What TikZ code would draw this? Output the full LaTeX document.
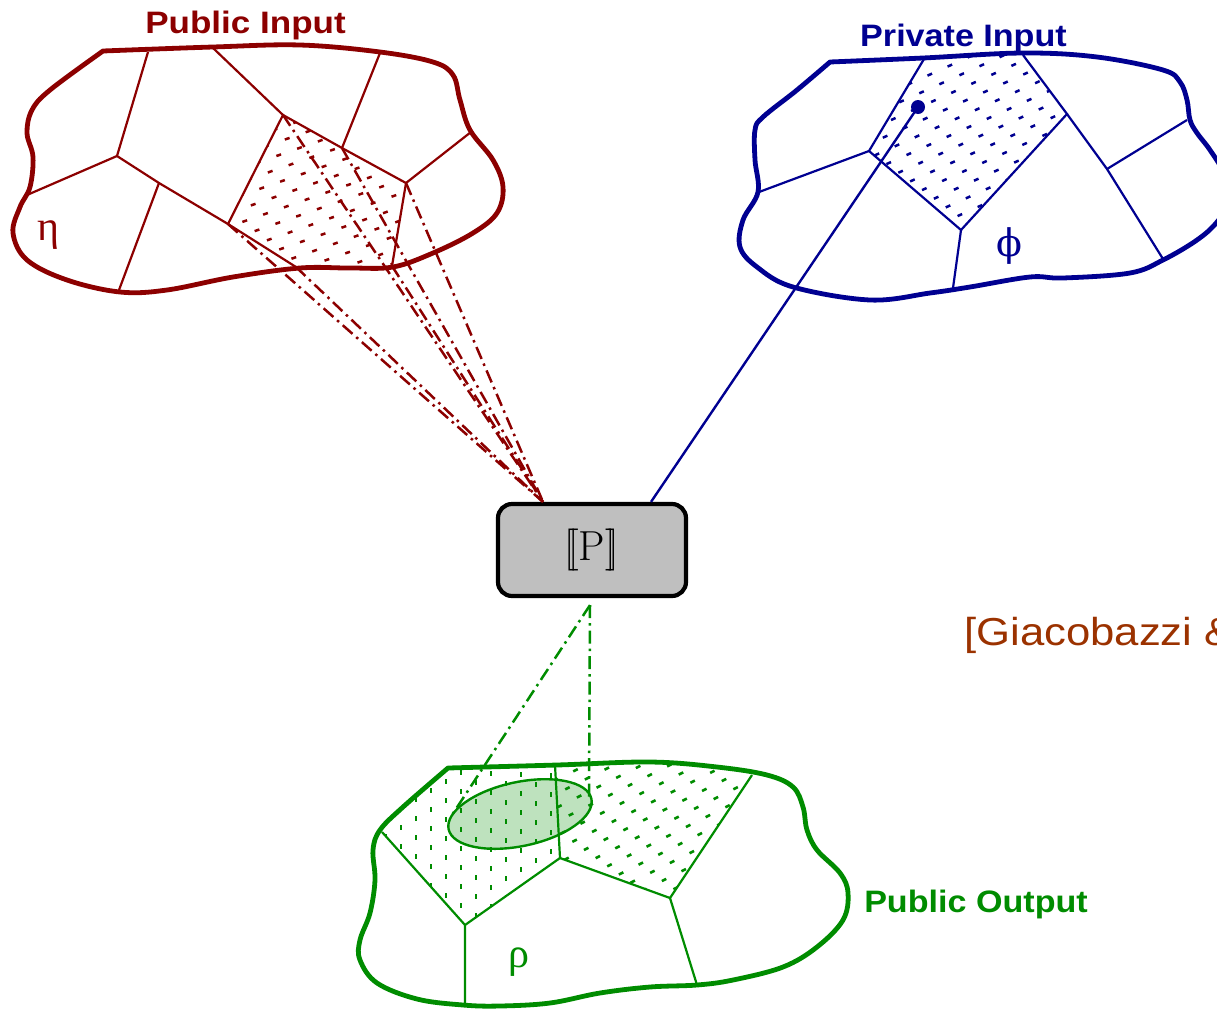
\documentclass[tikz,border=0pt]{standalone}
\usepackage{graphicx}
\usepackage{fontspec}
\newfontfamily\labfont{Liberation Sans}
\newfontfamily\grkfont{Liberation Serif}
\newfontfamily\phifont{DejaVu Serif}
\definecolor{pred}{RGB}{140,0,0}
\definecolor{pblue}{RGB}{0,0,145}
\definecolor{pgreen}{RGB}{0,140,0}
\definecolor{citecol}{RGB}{155,50,0}
\definecolor{boxgray}{RGB}{191,191,191}
\definecolor{elfill}{RGB}{190,226,190}
\begin{document}
\begin{tikzpicture}[x=1pt,y=-1pt,
  outline/.style={line width=4.8pt, line join=round},
  cellline/.style={line width=2.2pt},
  hatch/.style={line width=2.5pt, dash pattern=on 5pt off 17pt},
  vhatch/.style={line width=2.5pt, dash pattern=on 5pt off 14pt},
  proj/.style={line width=2.5pt, dash pattern=on 13pt off 5pt on 2.5pt off 5pt},
  lab/.style={font=\labfont\bfseries\fontsize{31}{35}\selectfont, anchor=base, inner sep=0pt},
  greek/.style={font=\fontsize{42}{46}\selectfont, anchor=base, inner sep=0pt}
]
\useasboundingbox (0,0) rectangle (1217,1010);
\clip (0,0) rectangle (1217,1010);

% ---------------- Public Input (red) ----------------
\coordinate (r1) at (283,115);
\coordinate (r2) at (342,148);
\coordinate (r3) at (406,183);
\coordinate (r4) at (392,266);
\coordinate (r5) at (296,267);
\coordinate (r6) at (228,224);
\coordinate (ra) at (117,156);
\coordinate (rb) at (159,183);

\begin{scope}
\clip (r1) -- (r2) -- (r3) -- (r4) -- (r5) -- (r6) -- cycle;
\foreach \k in {0,...,18} {
  \pgfmathsetmacro\c{110+\k*13.5}
  \pgfmathsetmacro\ph{mod(\k*9,22)}
  \draw[hatch, pred, dash phase=\ph pt] (215,\c) -- (425,{\c-0.35*210});
}
\end{scope}

\draw[pred, outline] plot[smooth, tension=0.6] coordinates {
 (103,51) (213,47) (300,45) (380,52) (433,62) (453,75) (460,100) (470,130)
 (493,160) (503,187) (497,213) (473,233) (433,253) (393,267) (350,268)
 (300,268) (233,277) (167,290) (120,292) (67,280) (27,260) (13,233)
 (20,207) (30,187) (33,157) (27,133) (32,110) (50,90) (103,51)} -- cycle;

\draw[pred, cellline] (148,52) -- (ra) -- (27,195);
\draw[pred, cellline] (ra) -- (rb) -- (r6);
\draw[pred, cellline] (rb) -- (119,290);
\draw[pred, cellline] (213,48) -- (r1) -- (r2) -- (r3) -- (471,132);
\draw[pred, cellline] (380,53) -- (r2);
\draw[pred, cellline] (r1) -- (r6) -- (r5);
\draw[pred, cellline] (r3) -- (r4);

\node[greek, text=pred] (eta) at (48,240) {\grkfont η};
\node[lab, text=pred] (pubin) at (245.5,33) {\scalebox{1.13}[1]{Public Input}};

% ---------------- Private Input (blue) ----------------
\coordinate (b1) at (924,59);
\coordinate (b2) at (1023,55);
\coordinate (b3) at (1067,114);
\coordinate (b4) at (961,230);
\coordinate (b5) at (869,151);
\coordinate (bc) at (1107,169);

\begin{scope}
\clip (b1) -- (b2) -- (b3) -- (b4) -- (b5) -- cycle;
\foreach \k in {0,...,21} {
  \pgfmathsetmacro\c{50+\k*14}
  \pgfmathsetmacro\ph{mod(\k*9,22)}
  \draw[hatch, pblue, dash phase=\ph pt] (860,\c) -- (1075,{\c-0.45*215});
}
\end{scope}

\draw[pblue, outline] plot[smooth, tension=0.6] coordinates {
 (830,62) (923,58) (1023,53) (1097,57) (1163,70) (1180,82) (1187,100)
 (1190,120) (1197,133) (1210,150) (1225,175) (1230,200) (1217,222)
 (1197,240) (1163,260) (1130,273) (1063,278) (1030,277) (970,287)
 (930,293) (870,300) (793,287) (757,267) (740,247) (743,220) (758,192)
 (755,160) (755,130) (763,117) (797,90) (830,62)} -- cycle;

\draw[pblue, cellline] (b1) -- (b5) -- (759,192);
\draw[pblue, cellline] (b5) -- (b4) -- (b3) -- (b2);
\draw[pblue, cellline] (b3) -- (bc) -- (1163,259);
\draw[pblue, cellline] (bc) -- (1187,120);
\draw[pblue, cellline] (b4) -- (953,288);

\node[greek, text=pblue, font=\fontsize{38}{42}\selectfont] (phi) at (1009,256) {\phifont ϕ};
\node[lab, text=pblue] (privin) at (963.5,46) {\scalebox{1.1}[1]{Private Input}};

\fill[pblue] (918,107) circle[radius=7pt];
\coordinate (bdot) at (918,107);

% ---------------- the program box ----------------
\node[draw=black, line width=4.2pt, rounded corners=14pt, fill=boxgray,
      minimum width=188pt, minimum height=92pt, inner sep=0pt,
      font=\fontsize{42}{46}\selectfont] (P) at (592,550)
      {[\kern-0.17em[P]\kern-0.17em]};

\coordinate (Pin) at ([xshift=-49pt]P.north);
\coordinate (Pb) at ([xshift=59pt]P.north);
\coordinate (Pout) at ([xshift=-2pt, yshift=-7pt]P.south);

\foreach \v in {r1,r2,r3,r4,r5,r6}
  \draw[pred, proj] (\v) -- (Pin);
\draw[pblue, line width=2.4pt] (bdot) -- (Pb);

% ---------------- Public Output (green) ----------------
\coordinate (g1) at (448,768);
\coordinate (g2) at (555,765);
\coordinate (g3) at (560,858);
\coordinate (g4) at (465,925);
\coordinate (g5) at (382,832);
\coordinate (g6) at (403,807);
\coordinate (g7) at (752,775);
\coordinate (g8) at (670,898);

\fill[elfill] (520,814) ellipse[x radius=73pt, y radius=32pt, rotate=12];

\begin{scope}
\clip (g1) -- (g2) -- (g3) -- (g4) -- (g5) -- (g6) -- cycle;
\foreach \k in {0,...,12} {
  \pgfmathsetmacro\xx{386+\k*15}
  \pgfmathsetmacro\ph{mod(\k*9,19)}
  \draw[vhatch, pgreen, dash phase=\ph pt] (\xx,758) -- (\xx,935);
}
\end{scope}
\begin{scope}
\clip (g2) -- (650,762) -- (717,767) -- (g7) -- (g8) -- (g3) -- cycle;
\foreach \k in {0,...,18} {
  \pgfmathsetmacro\c{755+\k*14}
  \pgfmathsetmacro\ph{mod(\k*9,22)}
  \draw[hatch, pgreen, dash phase=\ph pt] (550,\c) -- (760,{\c-0.5*210});
}
\end{scope}

\draw[pgreen, line width=2.4pt] (520,814) ellipse[x radius=73pt, y radius=32pt, rotate=12];

\draw[pgreen, outline] plot[smooth, tension=0.6] coordinates {
 (448,768) (557,765) (650,762) (717,767) (767,775) (793,787) (803,807)
 (807,830) (817,850) (840,873) (848,893) (843,920) (817,947) (783,967)
 (733,980) (697,985) (650,987) (600,993) (550,1003) (500,1006) (463,1005)
 (417,999) (377,983) (360,960) (360,940) (370,913) (375,880) (373,850)
 (380,830) (403,807) (448,768)} -- cycle;

\draw[pgreen, cellline] (g5) -- (g4) -- (465,1005);
\draw[pgreen, cellline] (g4) -- (g3) -- (g2);
\draw[pgreen, cellline] (g3) -- (g8) -- (g7);
\draw[pgreen, cellline] (g8) -- (697,985);

\coordinate (e1) at (450,818);
\coordinate (e2) at (589,797);
\draw[pgreen, proj] (Pout) -- (e1);
\draw[pgreen, proj] (Pout) -- (e2);

\node[greek, text=pgreen] (rho) at (519,967) {\grkfont ρ};
\node[lab, text=pgreen] (pubout) at (976,912) {\scalebox{1.1}[1]{Public Output}};

% ---------------- citation ----------------
\node[anchor=base west, inner sep=0pt, text=citecol,
      font=\labfont\fontsize{39}{43}\selectfont] (cite) at (964,645)
      {\scalebox{1.12}[1]{[Giacobazzi \&}};
\end{tikzpicture}
\end{document}
